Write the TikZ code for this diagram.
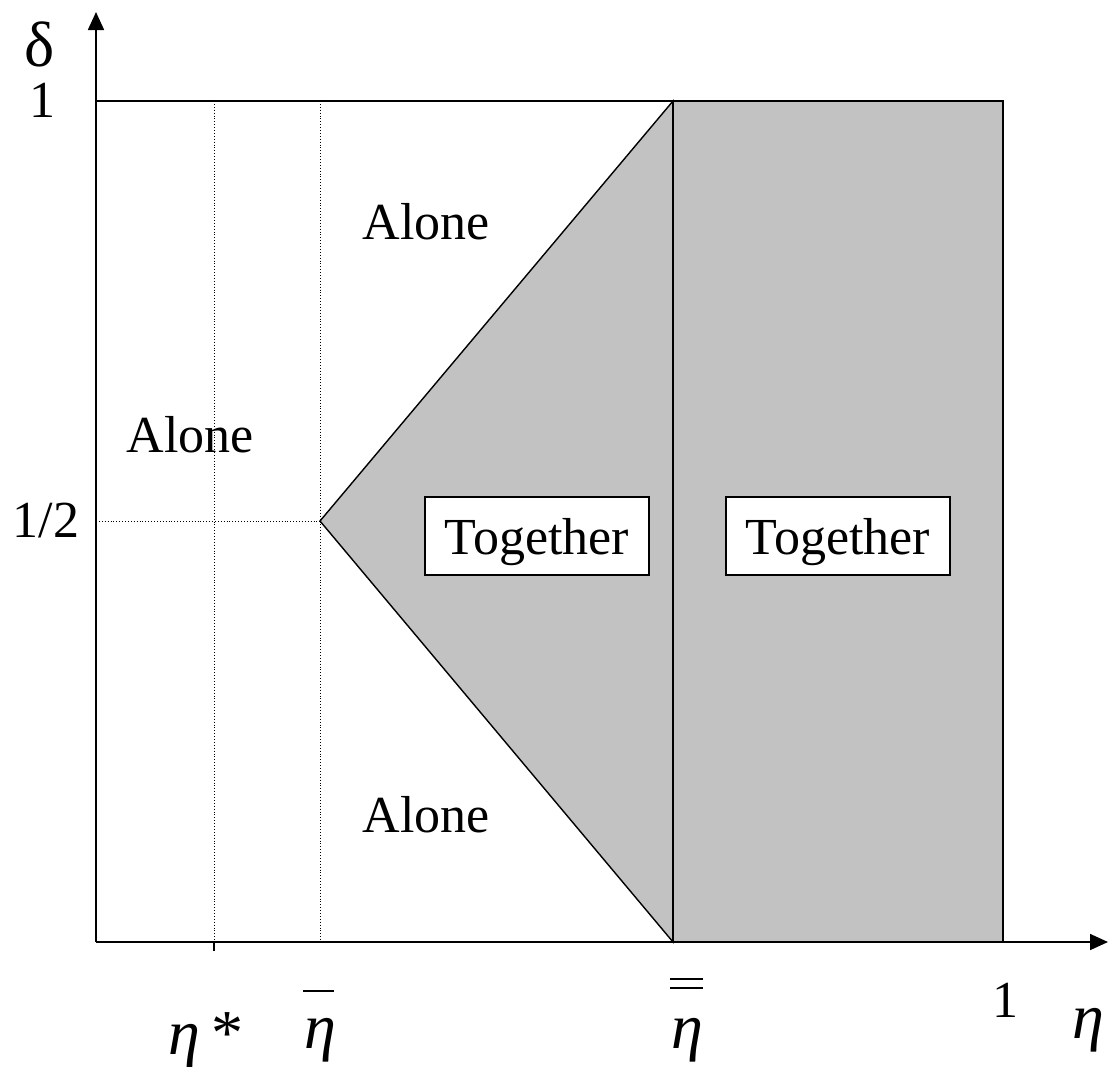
\documentclass[tikz,border=0pt]{standalone}
\usepackage{fontspec}
\setmainfont{Liberation Serif}
\usepackage{tikz}
\usetikzlibrary{positioning,arrows.meta,calc}

\tikzset{
  region/.style={fill=black!24,draw=black,line width=1.4pt,line join=miter},
  guide/.style={dotted,line width=0.9pt},
  lbl/.style={font=\fontsize{52}{60}\selectfont,inner sep=0pt},
  sym/.style={font=\fontsize{64}{72}\selectfont,inner sep=0pt},
  tag/.style={lbl,draw=black,fill=white,line width=1.3pt,text depth=0pt,minimum width=224pt,minimum height=78pt}
}

\begin{document}
\begin{tikzpicture}[x=1pt,y=-1pt]
\useasboundingbox (0,0) rectangle (1110,1066);
% corner points of the regions
\coordinate (O) at (96,942);
\coordinate (tl) at (96,101);
\coordinate (tip) at (320,521);
\coordinate (mt) at (673,101);
\coordinate (mb) at (673,942);
\coordinate (rt) at (1003,101);
\coordinate (rb) at (1003,942);
\coordinate (xend) at (1108,942);
\coordinate (yend) at (96,12);
% shaded regions
\draw[region] (tip)--(mt)--(mb)--cycle;
\draw[region] (mt) rectangle (rb);
\draw[line width=1.7pt] (tl)--(mt);
% dotted guides
\draw[guide] (214,101)--(214,942);
\draw[guide] (320,101)--(320,942);
\draw[guide] (96,521)--(tip);
% axes
\draw[line width=1.7pt,-{Triangle[length=18pt,width=16pt]}] (O)--(xend);
\draw[line width=1.7pt,-{Triangle[length=18pt,width=16pt]}] (O)--(yend);
\draw[line width=1.2pt] (214,942)--(214,951);
% axis labels
\node[sym] (delta) at (40,44) {δ};
\node[lbl] (one) at (42,100) {1};
\node[lbl] (half) at (46,521) {1/2};
\node[sym] (etastar) at (206,1040) {\textit{η}\,*};
\node[sym] (etabar) at (320,1040) {\textit{η}};
\draw[line width=2.2pt] (303,991)--(334,991);
\node[sym] (etadbar) at (687,1040) {\textit{η}};
\draw[line width=2.2pt] (670,979)--(703,979);
\draw[line width=2.2pt] (670,988)--(703,988);
\node[lbl] (xone) at (1005,1000) {1};
\node[sym] (eta) at (1088,1030) {\textit{η}};
% region labels
\node[lbl] (alone1) at (190,435) {Alone};
\node[lbl] (alone2) at (426,222) {Alone};
\node[lbl] (alone3) at (426,815) {Alone};
\node[tag] (tog1) at (537,536) {Together};
\node[tag] (tog2) at (838,536) {Together};
\end{tikzpicture}
\end{document}
